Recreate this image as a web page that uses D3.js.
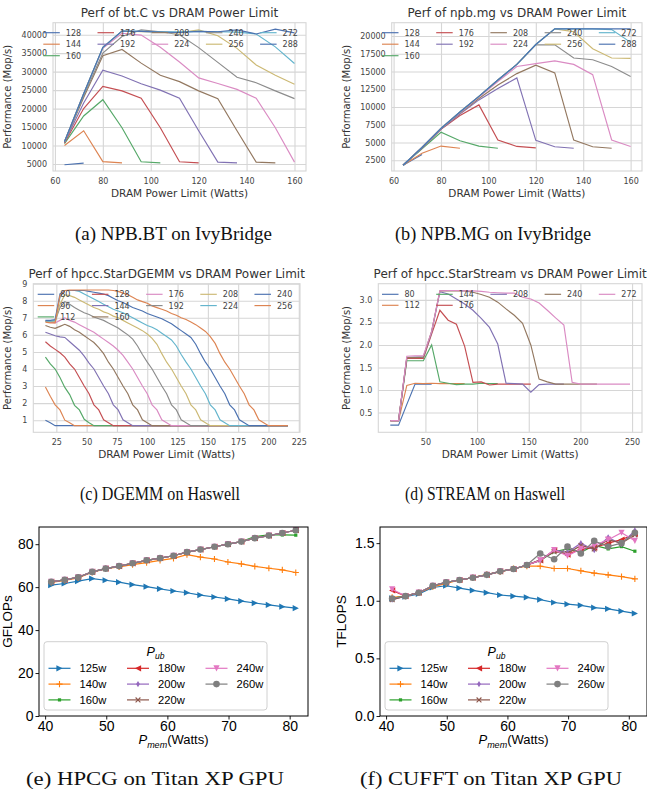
<!DOCTYPE html>
<html>
<head>
<meta charset="utf-8">
<script src="https://cdn.jsdelivr.net/npm/d3@7"></script>
<style>
  body { margin: 0; background: #fff; }
  svg { display: block; }
</style>
</head>
<body>
<script>
// ---------- (a) NPB.BT on IvyBridge ----------
const btX = [64, 72, 80, 88, 96, 104, 112, 120, 128, 136, 144, 152, 160];
const btLimits = ['128', '144', '160', '176', '192', '208', '224', '240', '256', '272', '288'];
const btPerf = [
  [4800, 5250],
  [10000, 14000, 5650, 5300],
  [10500, 18000, 22400, 14800, 5600, 5300],
  [10700, 20000, 26000, 24800, 22800, 14800, 5600, 5300],
  [10900, 21500, 30400, 28800, 26700, 25000, 22800, 14000, 5500, 5300],
  [11000, 23000, 34300, 36000, 32300, 29000, 27300, 24800, 22700, 14000, 5500, 5300],
  [11000, 24000, 36300, 40400, 39900, 36600, 32600, 28300, 26800, 25200, 22800, 14800, 5500],
  [11000, 23500, 35000, 39500, 41300, 40800, 40000, 36500, 32500, 28500, 27000, 24800, 22700],
  [11000, 24000, 36500, 41000, 40800, 40700, 40500, 41300, 39700, 36300, 31800, 29000, 26600],
  [11000, 24000, 36500, 41000, 40900, 40800, 40800, 40900, 40800, 40700, 40200, 36700, 32200],
  [11000, 24000, 36600, 41000, 40900, 40700, 40600, 40900, 40800, 41300, 40200, 41500, 40500]
];
const btYTicks = [5000, 10000, 15000, 20000, 25000, 30000, 35000, 40000];

// ---------- (b) NPB.MG on IvyBridge ----------
const mgX = [64, 72, 80, 88, 96, 104, 112, 120, 128, 136, 144, 152, 160];
const mgLimits = btLimits;
const mgPerf = [
  [1800, 3300],
  [1800, 3500, 4500, 4200],
  [1800, 4100, 6450, 5250, 4500, 4200],
  [1800, 4200, 6850, 8800, 10300, 5350, 4450, 4250],
  [1800, 4250, 6900, 9000, 11000, 12600, 14100, 5300, 4400, 4200],
  [1800, 4300, 6950, 9100, 11200, 13100, 14700, 15900, 14800, 5350, 4400, 4200],
  [1800, 4300, 7000, 9200, 11400, 13600, 15700, 16100, 16500, 16000, 14550, 5350, 4450],
  [1800, 4300, 7000, 9300, 11500, 13800, 16000, 18750, 18750, 16900, 16650, 15700, 14300],
  [1800, 4300, 7000, 9300, 11500, 13800, 16000, 18800, 21000, 20600, 18200, 16900, 16850],
  [1800, 4300, 7000, 9300, 11500, 13800, 16000, 18800, 21000, 21000, 21000, 20900, 19100],
  [1800, 4300, 7000, 9300, 11500, 13800, 16000, 18800, 21000, 21000, 21000, 21000, 21000]
];
const mgYTicks = [2500, 5000, 7500, 10000, 12500, 15000, 17500, 20000];
const ivyXTicks = [60, 80, 100, 120, 140, 160];

// ---------- (c) DGEMM on Haswell ----------
const dgemmX = [16, 20, 24, 28, 32, 36, 40, 44, 48, 52, 56, 60, 64, 68, 72, 76, 80, 84, 88, 92,
  96, 100, 104, 108, 112, 116, 120, 124, 128, 132, 136, 140, 144, 148, 152, 156, 160, 164, 168, 172,
  176, 180, 184, 188, 192, 196, 200, 204, 208, 212, 216];
const dgemmLimits = ['80', '96', '112', '128', '144', '160', '176', '192', '208', '224', '240', '256'];
const dgemmPerf = [
  [1.0, 0.85, 0.68],
  [2.95, 2.4, 1.9, 1.6, 1.0, 0.85, 0.68],
  [4.7, 4.3, 4.0, 3.5, 2.92, 2.5, 1.87, 1.6, 1.05, 0.85, 0.68],
  [5.6, 5.35, 5.15, 4.95, 4.7, 4.3, 4.0, 3.5, 3.0, 2.55, 1.9, 1.6, 1.02, 0.85, 0.68],
  [6.15, 6.05, 5.95, 5.88, 5.85, 5.6, 5.35, 5.1, 4.75, 4.35, 4.0, 3.5, 3.0, 2.55, 1.9, 1.6, 1.02, 0.85, 0.68],
  [6.55, 6.45, 6.38, 6.5, 6.62, 6.5, 6.3, 6.15, 5.95, 5.75, 5.55, 5.25, 4.9, 4.4, 4.0, 3.5, 3.0, 2.55,
    1.9, 1.6, 1.02, 0.85, 0.68],
  [6.8, 6.75, 6.7, 6.85, 7.0, 6.85, 6.75, 6.6, 6.45, 6.3, 6.15, 5.95, 5.75, 5.55, 5.35, 5.1, 4.8, 4.4,
    4.0, 3.5, 3.0, 2.55, 1.9, 1.6, 1.02, 0.85, 0.68],
  [6.8, 6.8, 6.8, 7.6, 7.95, 7.8, 7.6, 7.45, 7.3, 7.2, 7.05, 6.95, 6.85, 6.7, 6.55, 6.4, 6.2, 6.0, 5.75,
    5.35, 4.85, 4.4, 4.0, 3.5, 3.0, 2.55, 1.9, 1.6, 1.02, 0.85, 0.68],
  [6.8, 6.8, 6.8, 7.8, 8.35, 8.3, 8.2, 8.05, 7.9, 7.75, 7.6, 7.5, 7.35, 7.25, 7.1, 7.0, 6.85, 6.7, 6.55,
    6.4, 6.25, 6.05, 5.8, 5.45, 4.9, 4.4, 4.0, 3.5, 3.0, 2.55, 1.9, 1.6, 1.02, 0.85, 0.68],
  [6.8, 6.8, 6.85, 8.2, 8.6, 8.6, 8.6, 8.55, 8.4, 8.25, 8.1, 7.95, 7.8, 7.65, 7.5, 7.4, 7.3, 7.15, 7.0,
    6.85, 6.7, 6.55, 6.45, 6.3, 6.1, 5.9, 5.7, 5.35, 4.85, 4.4, 4.0, 3.5, 3.0, 2.55, 1.9, 1.6, 1.02, 0.85, 0.68],
  [6.85, 6.85, 6.9, 8.4, 8.6, 8.6, 8.6, 8.6, 8.6, 8.55, 8.5, 8.45, 8.4, 8.3, 8.15, 8.0, 7.9, 7.75, 7.6,
    7.5, 7.4, 7.25, 7.15, 7.05, 6.95, 6.8, 6.65, 6.45, 6.25, 6.05, 5.85, 5.45, 4.9, 4.4, 4.0, 3.5, 3.0,
    2.55, 1.9, 1.6, 1.02, 0.85, 0.68],
  [6.75, 6.7, 6.7, 8.3, 8.6, 8.62, 8.63, 8.63, 8.63, 8.63, 8.63, 8.63, 8.63, 8.63, 8.6, 8.55, 8.45, 8.35,
    8.2, 8.05, 7.95, 7.85, 7.7, 7.6, 7.5, 7.4, 7.25, 7.15, 7.0, 6.9, 6.75, 6.6, 6.4, 6.2, 5.9, 5.5, 4.9,
    4.4, 4.0, 3.5, 3.0, 2.55, 1.9, 1.6, 1.02, 0.85, 0.68]
];
const dgemmLastX = 216;   // every run stays on its floor value up to the last limit
const dgemmXTicks = [25, 50, 75, 100, 125, 150, 175, 200, 225];
const dgemmYTicks = [1, 2, 3, 4, 5, 6, 7, 8, 9];

// ---------- (d) STREAM on Haswell ----------
const streamX = [16, 24, 32, 40, 48, 56, 64, 72, 80, 88, 96, 104, 112, 120, 128, 136, 144, 152, 160,
  168, 176, 184, 192, 200, 208, 216, 224, 232, 240, 248];
const streamLimits = ['80', '112', '144', '176', '208', '240', '272'];
const streamPerf = [
  [0.22, 0.22, 0.68, 1.13, 1.13, 1.13],
  [0.32, 0.32, 1.1, 1.15, 1.14, 1.15, 1.14, 1.14, 1.14, 1.14],
  [0.32, 0.32, 1.65, 1.65, 1.65, 2.0, 1.18, 1.15, 1.12, 1.13, 1.13, 1.15, 1.14, 1.14],
  [0.32, 0.32, 1.7, 1.7, 1.7, 2.24, 2.77, 2.55, 2.46, 1.97, 1.17, 1.18, 1.11, 1.13, 1.13, 1.13, 1.13, 1.13],
  [0.32, 0.32, 1.72, 1.73, 1.73, 2.28, 3.18, 3.13, 3.02, 2.91, 2.77, 2.59, 2.39, 2.02, 1.15, 1.14, 1.13,
    0.95, 1.12, 1.13, 1.13, 1.13],
  [0.32, 0.32, 1.72, 1.72, 1.73, 2.3, 3.2, 3.2, 3.2, 3.2, 3.17, 3.12, 3.06, 2.95, 2.8, 2.66, 2.48, 2.0,
    1.24, 1.18, 1.13, 1.13, 1.13, 1.13, 1.13, 1.13],
  [0.32, 0.32, 1.75, 1.76, 1.76, 2.3, 3.2, 3.21, 3.21, 3.2, 3.2, 3.19, 3.17, 3.16, 3.15, 3.15, 3.06, 3.02,
    2.93, 2.77, 2.6, 2.44, 1.17, 1.13, 1.13, 1.13, 1.13, 1.13, 1.13, 1.13]
];
const streamXTicks = [50, 100, 150, 200, 250];
const streamYTicks = [0.5, 1.0, 1.5, 2.0, 2.5, 3.0];

// ---------- (e) HPCG / (f) CUFFT on Titan XP ----------
const gpuX = [41, 43.2, 45.4, 47.7, 49.9, 52.1, 54.3, 56.6, 58.8, 61, 63.2, 65.4, 67.7, 69.9, 72.1, 74.3, 76.6, 78.8, 81];
const gpuLimits = ['125w', '140w', '160w', '180w', '200w', '220w', '240w', '260w'];
const hpcgPerf = [
  [60.9, 61.7, 62.8, 64.0, 63.2, 62.3, 61.2, 60.2, 59.2, 58.2, 57.4, 56.3, 55.4, 54.5, 53.5, 52.6, 51.7, 50.9, 50.2],
  [62.2, 63.1, 64.3, 66.9, 68.6, 69.4, 70.5, 71.4, 72.5, 73.4, 75.1, 74.0, 73.1, 71.7, 70.8, 69.7, 68.8, 68.0, 66.8],
  [62.5, 63.4, 64.6, 67.1, 68.6, 69.8, 71.1, 72.5, 73.5, 74.6, 76.3, 77.5, 78.8, 80.0, 81.2, 83.5, 84.3, 84.3, 84.2],
  [62.5, 63.4, 64.6, 67.1, 68.6, 69.8, 71.1, 72.5, 73.5, 74.6, 76.3, 77.5, 78.8, 80.0, 81.2, 82.8, 84.0, 85.2, 86.5],
  [62.5, 63.4, 64.6, 67.1, 68.6, 69.8, 71.1, 72.5, 73.5, 74.6, 76.3, 77.5, 78.8, 80.0, 81.2, 82.8, 84.0, 85.2, 86.5],
  [62.5, 63.4, 64.6, 67.1, 68.6, 69.8, 71.1, 72.5, 73.5, 74.6, 76.3, 77.5, 78.8, 80.0, 81.2, 82.8, 84.0, 85.2, 86.5],
  [62.5, 63.4, 64.6, 67.1, 68.6, 69.8, 71.1, 72.5, 73.5, 74.6, 76.3, 77.5, 78.8, 80.0, 81.2, 82.8, 84.0, 85.2, 86.5],
  [62.5, 63.4, 64.6, 67.1, 68.6, 69.8, 71.1, 72.5, 73.5, 74.6, 76.3, 77.5, 78.8, 80.0, 81.2, 82.8, 84.0, 85.2, 86.5]
];
const cufftPerf = [
  [1.02, 1.035, 1.06, 1.115, 1.13, 1.11, 1.09, 1.07, 1.05, 1.04, 1.03, 1.01, 0.985, 0.97, 0.96, 0.94, 0.93, 0.91, 0.89],
  [1.03, 1.04, 1.07, 1.12, 1.15, 1.18, 1.2, 1.23, 1.25, 1.28, 1.3, 1.3, 1.28, 1.28, 1.26, 1.24, 1.225, 1.21, 1.19],
  [1.02, 1.04, 1.07, 1.13, 1.16, 1.18, 1.2, 1.225, 1.255, 1.275, 1.31, 1.35, 1.425, 1.45, 1.42, 1.48, 1.45, 1.47, 1.43],
  [1.09, 1.04, 1.07, 1.13, 1.16, 1.18, 1.2, 1.225, 1.255, 1.275, 1.31, 1.35, 1.44, 1.4, 1.45, 1.46, 1.5, 1.53, 1.58],
  [1.01, 1.04, 1.07, 1.13, 1.16, 1.18, 1.2, 1.225, 1.255, 1.275, 1.31, 1.35, 1.44, 1.42, 1.5, 1.44, 1.55, 1.49, 1.61],
  [1.01, 1.04, 1.07, 1.13, 1.16, 1.18, 1.2, 1.225, 1.255, 1.275, 1.31, 1.355, 1.425, 1.41, 1.48, 1.45, 1.53, 1.5, 1.57],
  [1.1, 1.04, 1.07, 1.13, 1.16, 1.18, 1.2, 1.225, 1.255, 1.275, 1.31, 1.35, 1.44, 1.39, 1.45, 1.48, 1.53, 1.59, 1.52],
  [1.02, 1.04, 1.07, 1.13, 1.16, 1.18, 1.2, 1.225, 1.255, 1.275, 1.31, 1.41, 1.36, 1.47, 1.41, 1.52, 1.47, 1.5, 1.59]
];
const gpuXTicks = [40, 50, 60, 70, 80];
const hpcgYTicks = [0, 20, 40, 60, 80];
const cufftYTicks = [0, 0.5, 1.0, 1.5];
const gpuMarkers = ['>', '+', 's', '<', 'd', 'x', 'v', 'o'];

const sbColors = ['#4c72b0', '#dd8452', '#55a868', '#c44e52', '#8172b3', '#937860', '#da8bc3', '#8c8c8c', '#ccb974', '#64b5cd'];
const tabColors = ['#1f77b4', '#ff7f0e', '#2ca02c', '#d62728', '#9467bd', '#8c564b', '#e377c2', '#7f7f7f'];

const svg = d3.select('body').append('svg').attr('width', 647).attr('height', 794);

// matplotlib fills legend columns top to bottom, extra items go to the first columns
function legendSlots(n, ncol) {
  const base = Math.floor(n / ncol), extra = n % ncol;
  const out = [];
  let c = 0, r = 0;
  for (let i = 0; i < n; i++) {
    out.push([c, r]);
    r++;
    if (r >= base + (c < extra ? 1 : 0)) { c++; r = 0; }
  }
  return out;
}

// seaborn whitegrid style panel
function sbPanel(p) {
  const x = d3.scaleLinear().domain(p.xDom).range([p.l, p.r]);
  const y = d3.scaleLinear().domain(p.yDom).range([p.b, p.t]);
  const g = svg.append('g');

  const gx = g.append('g').attr('transform', `translate(0,${p.b})`)
    .call(d3.axisBottom(x).tickValues(p.xTicks).tickSize(-(p.b - p.t)).tickPadding(7).tickFormat(d3.format('d')));
  const gy = g.append('g').attr('transform', `translate(${p.l},0)`)
    .call(d3.axisLeft(y).tickValues(p.yTicks).tickSize(-(p.r - p.l)).tickPadding(6).tickFormat(p.yFmt));
  [gx, gy].forEach(a => {
    a.select('.domain').remove();
    a.selectAll('line').attr('stroke', '#d6d6d6').attr('stroke-width', 1.1);
    a.selectAll('text').attr('fill', '#444').attr('font-size', 8).attr('font-family', 'DejaVu Sans');
  });
  g.append('rect').attr('x', p.l).attr('y', p.t).attr('width', p.r - p.l).attr('height', p.b - p.t)
    .attr('fill', 'none').attr('stroke', '#d6d6d6').attr('stroke-width', 1.1);

  const line = d3.line().x(d => x(d[0])).y(d => y(d[1]));
  p.series.forEach((pts, i) => {
    g.append('path').datum(pts).attr('d', line).attr('fill', 'none')
      .attr('stroke', sbColors[i % 10]).attr('stroke-width', 1.15);
  });

  const mid = (p.l + p.r) / 2;
  g.append('text').attr('x', mid).attr('y', p.t - 6).attr('text-anchor', 'middle')
    .attr('font-family', 'DejaVu Sans').attr('font-size', 12).attr('fill', '#333').text(p.title);
  g.append('text').attr('x', mid).attr('y', p.b + 26).attr('text-anchor', 'middle')
    .attr('font-family', 'DejaVu Sans').attr('font-size', 10.5).attr('fill', '#333').text('DRAM Power Limit (Watts)');
  g.append('text').attr('transform', `translate(${p.yLabX},${(p.t + p.b) / 2}) rotate(-90)`)
    .attr('text-anchor', 'middle').attr('font-family', 'DejaVu Sans').attr('font-size', 10)
    .attr('fill', '#333').text('Performance (Mop/s)');

  const slots = legendSlots(p.names.length, 5);
  const lg = g.append('g');
  p.names.forEach((nm, i) => {
    const lx = p.leg[0] + slots[i][0] * 54.2, ly = p.leg[1] + slots[i][1] * p.leg[2];
    lg.append('line').attr('x1', lx).attr('x2', lx + 16.5).attr('y1', ly).attr('y2', ly)
      .attr('stroke', sbColors[i % 10]).attr('stroke-width', 1.15);
    lg.append('text').attr('x', lx + 22.5).attr('y', ly + 3).attr('font-family', 'DejaVu Sans')
      .attr('font-size', 8).attr('fill', '#444').text(nm);
  });
}

function drawMarker(sel, type, color) {
  const s = 3.1;
  if (type === '>') sel.append('path').attr('d', `M${-s},${-s}L${s},0L${-s},${s}Z`).attr('fill', color);
  else if (type === '<') sel.append('path').attr('d', `M${s},${-s}L${-s},0L${s},${s}Z`).attr('fill', color);
  else if (type === 'v') sel.append('path').attr('d', `M${-s},${-s}L${s},${-s}L0,${s}Z`).attr('fill', color);
  else if (type === 'd') sel.append('path').attr('d', `M0,${-s}L${s * 0.6},0L0,${s}L${-s * 0.6},0Z`).attr('fill', color);
  else if (type === 's') sel.append('rect').attr('x', -1.6).attr('y', -1.6).attr('width', 3.2).attr('height', 3.2).attr('fill', color);
  else if (type === 'o') sel.append('circle').attr('r', 3.3).attr('fill', color);
  else if (type === '+') sel.append('path').attr('d', `M${-s},0H${s}M0,${-s}V${s}`).attr('stroke', color).attr('stroke-width', 1.1);
  else if (type === 'x') sel.append('path').attr('d', `M-2.4,-2.4L2.4,2.4M-2.4,2.4L2.4,-2.4`).attr('stroke', color).attr('stroke-width', 1.1);
}

// plain matplotlib style panel
function mplPanel(p) {
  const x = d3.scaleLinear().domain([39, 83]).range([p.l, p.r]);
  const y = d3.scaleLinear().domain(p.yDom).range([p.b, p.t]);
  const g = svg.append('g');
  const font = 'Liberation Sans';

  const line = d3.line().x((d, i) => x(gpuX[i])).y(d => y(d));
  p.series.forEach((vals, i) => {
    g.append('path').datum(vals).attr('d', line).attr('fill', 'none')
      .attr('stroke', tabColors[i]).attr('stroke-width', 1.2);
    vals.forEach((v, k) => {
      drawMarker(g.append('g').attr('transform', `translate(${x(gpuX[k])},${y(v)})`), gpuMarkers[i], tabColors[i]);
    });
  });

  const gx = g.append('g').attr('transform', `translate(0,${p.b})`)
    .call(d3.axisBottom(x).tickValues(gpuXTicks).tickSize(3.5).tickPadding(1.5).tickFormat(d3.format('d')));
  const gy = g.append('g').attr('transform', `translate(${p.l},0)`)
    .call(d3.axisLeft(y).tickValues(p.yTicks).tickSize(3.5).tickPadding(2).tickFormat(p.yFmt));
  [gx, gy].forEach(a => {
    a.select('.domain').remove();
    a.selectAll('line').attr('stroke', '#000').attr('stroke-width', 0.9);
    a.selectAll('text').attr('fill', '#000').attr('font-size', 14).attr('font-family', font);
  });
  g.append('rect').attr('x', p.l).attr('y', p.t).attr('width', p.r - p.l).attr('height', p.b - p.t)
    .attr('fill', 'none').attr('stroke', '#000').attr('stroke-width', 1);

  const xl = g.append('text').attr('x', (p.l + p.r) / 2).attr('y', p.b + 28).attr('text-anchor', 'middle')
    .attr('font-family', font).attr('font-size', 13).attr('fill', '#000');
  xl.append('tspan').attr('font-style', 'italic').text('P');
  xl.append('tspan').attr('font-style', 'italic').attr('font-size', 9).attr('dy', 3.5).text('mem');
  xl.append('tspan').attr('dy', -3.5).text('(Watts)');
  g.append('text').attr('transform', `translate(${p.yLabX},${(p.t + p.b) / 2}) rotate(-90)`)
    .attr('text-anchor', 'middle').attr('font-family', font).attr('font-size', 13.5).attr('fill', '#000')
    .text(p.yLabel);

  // legend box
  const bx = p.l + 5, by = p.b - 74.3, bw = 223, bh = 68.3;
  const lg = g.append('g');
  lg.append('rect').attr('x', bx).attr('y', by).attr('width', bw).attr('height', bh).attr('rx', 3)
    .attr('fill', '#fff').attr('fill-opacity', 0.85).attr('stroke', '#d0d0d0').attr('stroke-width', 1);
  const tt = lg.append('text').attr('x', bx + bw / 2).attr('y', by + 14).attr('text-anchor', 'middle')
    .attr('font-family', font).attr('font-size', 12.5).attr('font-style', 'italic').attr('fill', '#000');
  tt.append('tspan').text('P');
  tt.append('tspan').attr('font-size', 8.5).attr('dy', 3).text('ub');
  const slots = legendSlots(gpuLimits.length, 3);
  gpuLimits.forEach((nm, i) => {
    const hx = bx + 4.5 + slots[i][0] * 78.5, hy = by + 26.6 + slots[i][1] * 15.8;
    lg.append('line').attr('x1', hx).attr('x2', hx + 22).attr('y1', hy).attr('y2', hy)
      .attr('stroke', tabColors[i]).attr('stroke-width', 1.2);
    drawMarker(lg.append('g').attr('transform', `translate(${hx + 11},${hy})`), gpuMarkers[i], tabColors[i]);
    lg.append('text').attr('x', hx + 31).attr('y', hy + 4).attr('font-family', font)
      .attr('font-size', 11.2).attr('fill', '#000').text(nm);
  });
}

function caption(cx, cy, txt, len, size) {
  svg.append('text').attr('x', cx).attr('y', cy).attr('text-anchor', 'middle')
    .attr('font-family', 'Liberation Serif').attr('font-size', size).attr('fill', '#111')
    .attr('textLength', len).attr('lengthAdjust', 'spacingAndGlyphs').text(txt);
}

const pairs = (xs, vals) => vals.map(v => v.map((y, k) => [xs[k], y]));

sbPanel({
  l: 53, r: 306, t: 22.7, b: 171, xDom: [59.2, 164.8], yDom: [3105, 43248],
  xTicks: ivyXTicks, yTicks: btYTicks, yFmt: d3.format('d'),
  series: pairs(btX, btPerf), names: btLimits,
  title: 'Perf of bt.C vs DRAM Power Limit', yLabX: 11, leg: [43.3, 32.7, 11.5]
});
sbPanel({
  l: 391.7, r: 642, t: 22.7, b: 171, xDom: [59.2, 164.8], yDom: [990, 21870],
  xTicks: ivyXTicks, yTicks: mgYTicks, yFmt: d3.format('d'),
  series: pairs(mgX, mgPerf), names: mgLimits,
  title: 'Perf of npb.mg vs DRAM Power Limit', yLabX: 350, leg: [382, 32.7, 11.5]
});
sbPanel({
  l: 33.3, r: 300, t: 283.7, b: 432.3, xDom: [6, 226], yDom: [0.29, 9.0],
  xTicks: dgemmXTicks, yTicks: dgemmYTicks, yFmt: d3.format('d'),
  series: dgemmPerf.map(v => v.map((y, k) => [dgemmX[k], y]).concat([[dgemmLastX, v[v.length - 1]]])),
  names: dgemmLimits,
  title: 'Perf of hpcc.StarDGEMM vs DRAM Power Limit', yLabX: 11, leg: [37.7, 294.3, 11.3]
});
sbPanel({
  l: 378.3, r: 642, t: 283.7, b: 432.3, xDom: [4.4, 259.6], yDom: [0.06, 3.36],
  xTicks: streamXTicks, yTicks: streamYTicks, yFmt: d3.format('.1f'),
  series: pairs(streamX, streamPerf), names: streamLimits,
  title: 'Perf of hpcc.StarStream vs DRAM Power Limit', yLabX: 350, leg: [382, 294.3, 11]
});

mplPanel({ l: 39, r: 308, t: 527, b: 716, yDom: [0, 88], yTicks: hpcgYTicks, yFmt: d3.format('d'),
  series: hpcgPerf, yLabel: 'GFLOPs', yLabX: 12 });
mplPanel({ l: 380, r: 647, t: 527, b: 716, yDom: [0, 1.64], yTicks: cufftYTicks, yFmt: d3.format('.1f'),
  series: cufftPerf, yLabel: 'TFLOPS', yLabX: 346 });

caption(173.5, 240, '(a) NPB.BT on IvyBridge', 197, 18);
caption(493, 240, '(b) NPB.MG on IvyBridge', 196, 18);
caption(160, 500, '(c) DGEMM on Haswell', 160, 18);
caption(485, 500, '(d) STREAM on Haswell', 160, 18);
caption(155, 785, '(e) HPCG on Titan XP GPU', 258, 19);
caption(491, 785, '(f) CUFFT on Titan XP GPU', 262, 19);
</script>
</body>
</html>
